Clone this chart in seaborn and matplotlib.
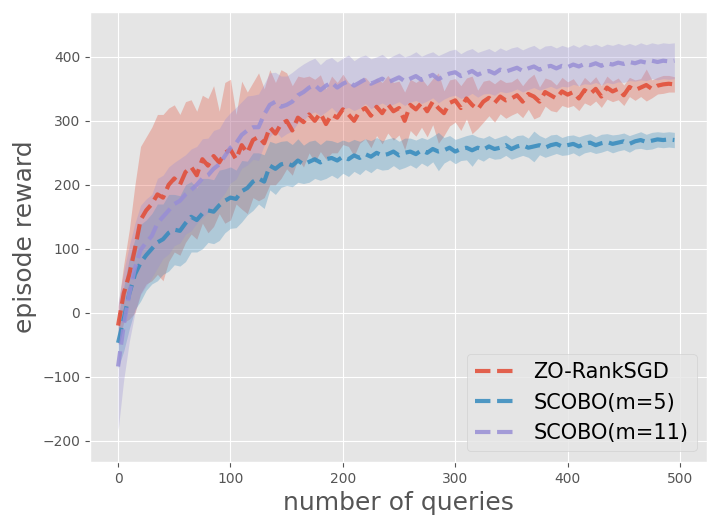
import matplotlib
matplotlib.use('Agg')

import numpy as np
import pandas as pd
import matplotlib.pyplot as plt
import seaborn as sns

plt.style.use('ggplot')

# queries sampled every 5 steps
queries = np.arange(0, 500, 5)

zo_mean = [-20, 30, 60, 100, 145, 160, 170, 185, 180, 200,
           210, 200, 220, 228, 215, 240, 230, 245, 235, 250,
           255, 240, 262, 250, 270, 275, 265, 290, 280, 295,
           300, 285, 305, 298, 310, 300, 312, 295, 310, 305,
           318, 310, 300, 315, 320, 308, 322, 312, 326, 315,
           320, 300, 325, 318, 328, 315, 330, 320, 312, 328,
           332, 320, 335, 325, 318, 330, 336, 328, 338, 332,
           335, 340, 330, 342, 338, 330, 345, 340, 335, 346,
           341, 345, 335, 348, 342, 350, 338, 352, 346, 350,
           340, 353, 348, 352, 356, 350, 355, 357, 358, 357]
zo_spread = [30, 45, 70, 100, 115, 115, 120, 125, 130, 120,
             115, 110, 110, 105, 100, 100, 105, 110, 80, 110,
             110, 70, 100, 95, 90, 100, 85, 90, 80, 85,
             75, 70, 65, 70, 60, 65, 60, 55, 60, 55,
             55, 50, 55, 50, 48, 50, 45, 48, 45, 45,
             42, 45, 40, 42, 38, 40, 36, 55, 35, 36,
             34, 35, 32, 45, 30, 32, 28, 30, 27, 28,
             26, 27, 25, 24, 35, 23, 22, 24, 21, 22,
             20, 21, 19, 20, 18, 19, 17, 18, 16, 17,
             16, 15, 16, 14, 25, 14, 13, 14, 13, 12]

m5_mean = [-47, -10, 30, 60, 78, 90, 100, 110, 115, 125,
           130, 128, 140, 150, 145, 155, 160, 158, 168, 175,
           180, 178, 190, 195, 205, 210, 205, 230, 225, 232,
           234, 230, 238, 232, 236, 240, 235, 240, 242, 238,
           244, 240, 246, 242, 248, 244, 250, 246, 248, 252,
           246, 250, 252, 248, 254, 250, 256, 252, 254, 258,
           252, 256, 258, 254, 258, 255, 260, 256, 258, 262,
           256, 260, 262, 258, 260, 262, 258, 262, 264, 260,
           262, 264, 260, 264, 266, 262, 265, 267, 264, 266,
           268, 264, 268, 270, 267, 269, 271, 270, 271, 270]
m5_spread = [40, 50, 55, 55, 60, 55, 55, 60, 55, 60,
             55, 55, 60, 55, 50, 55, 50, 50, 55, 50,
             48, 45, 48, 42, 45, 40, 42, 38, 40, 36,
             35, 33, 34, 30, 32, 30, 28, 30, 27, 28,
             26, 27, 25, 26, 24, 25, 24, 23, 24, 22,
             22, 23, 21, 22, 20, 21, 20, 30, 20, 19,
             19, 18, 19, 25, 17, 18, 17, 16, 17, 16,
             16, 17, 16, 15, 24, 15, 15, 16, 15, 14,
             15, 14, 15, 14, 14, 13, 14, 13, 14, 13,
             13, 13, 12, 13, 12, 13, 12, 12, 12, 12]

m11_mean = [-84, -20, 30, 70, 98, 110, 120, 140, 150, 160,
            170, 175, 185, 192, 200, 210, 215, 225, 232, 245,
            258, 265, 278, 285, 290, 290, 310, 325, 330, 322,
            325, 330, 340, 345, 352, 356, 348, 355, 360, 352,
            358, 362, 355, 360, 365, 358, 362, 366, 360, 364,
            368, 362, 366, 370, 364, 368, 372, 365, 370, 374,
            376, 370, 374, 378, 372, 376, 378, 374, 380, 377,
            380, 383, 378, 382, 385, 380, 384, 386, 382, 386,
            384, 388, 385, 389, 387, 390, 386, 390, 388, 391,
            389, 392, 390, 393, 391, 394, 392, 394, 393, 394]
m11_spread = [100, 85, 75, 70, 70, 68, 65, 70, 65, 68,
              65, 66, 62, 64, 60, 62, 58, 60, 56, 58,
              55, 56, 52, 54, 50, 52, 48, 50, 46, 48,
              45, 46, 43, 44, 42, 42, 40, 41, 39, 40,
              40, 41, 39, 40, 38, 39, 38, 38, 37, 38,
              38, 38, 37, 38, 37, 37, 36, 37, 36, 36,
              36, 35, 36, 35, 35, 34, 35, 34, 34, 33,
              34, 33, 33, 33, 33, 32, 33, 32, 32, 32,
              31, 31, 30, 31, 30, 30, 30, 30, 30, 30,
              29, 29, 28, 29, 28, 28, 28, 28, 28, 28]

labels = ['ZO-RankSGD', 'SCOBO(m=5)', 'SCOBO(m=11)']
colors = ['#E24A33', '#348ABD', '#988ED5']

fig = plt.figure(figsize=(7.17, 5.26), dpi=100)
ax = fig.add_axes([0.1255, 0.122, 0.8605, 0.855])

series = [(zo_mean, zo_spread), (m5_mean, m5_spread), (m11_mean, m11_spread)]
for (mean, spread), label, color in zip(series, labels, colors):
    df = pd.DataFrame({'query': queries, 'reward': mean})
    lo = np.array(mean) - np.array(spread)
    hi = np.array(mean) + np.array(spread)
    ax.fill_between(queries, lo, hi, color=color, alpha=0.3, linewidth=0)
    sns.lineplot(data=df, x='query', y='reward', ax=ax, color=color,
                 linestyle='--', linewidth=3, alpha=0.85, label=label)

ax.set_xlim(-25, 524)
ax.set_ylim(-233, 470)
ax.set_xticks([0, 100, 200, 300, 400, 500])
ax.set_yticks([-200, -100, 0, 100, 200, 300, 400])
ax.set_xlabel('number of queries', fontsize=18)
ax.set_ylabel('episode reward', fontsize=18)
ax.legend(loc='lower right', fontsize=15)

plt.savefig('out.png', dpi=100)
